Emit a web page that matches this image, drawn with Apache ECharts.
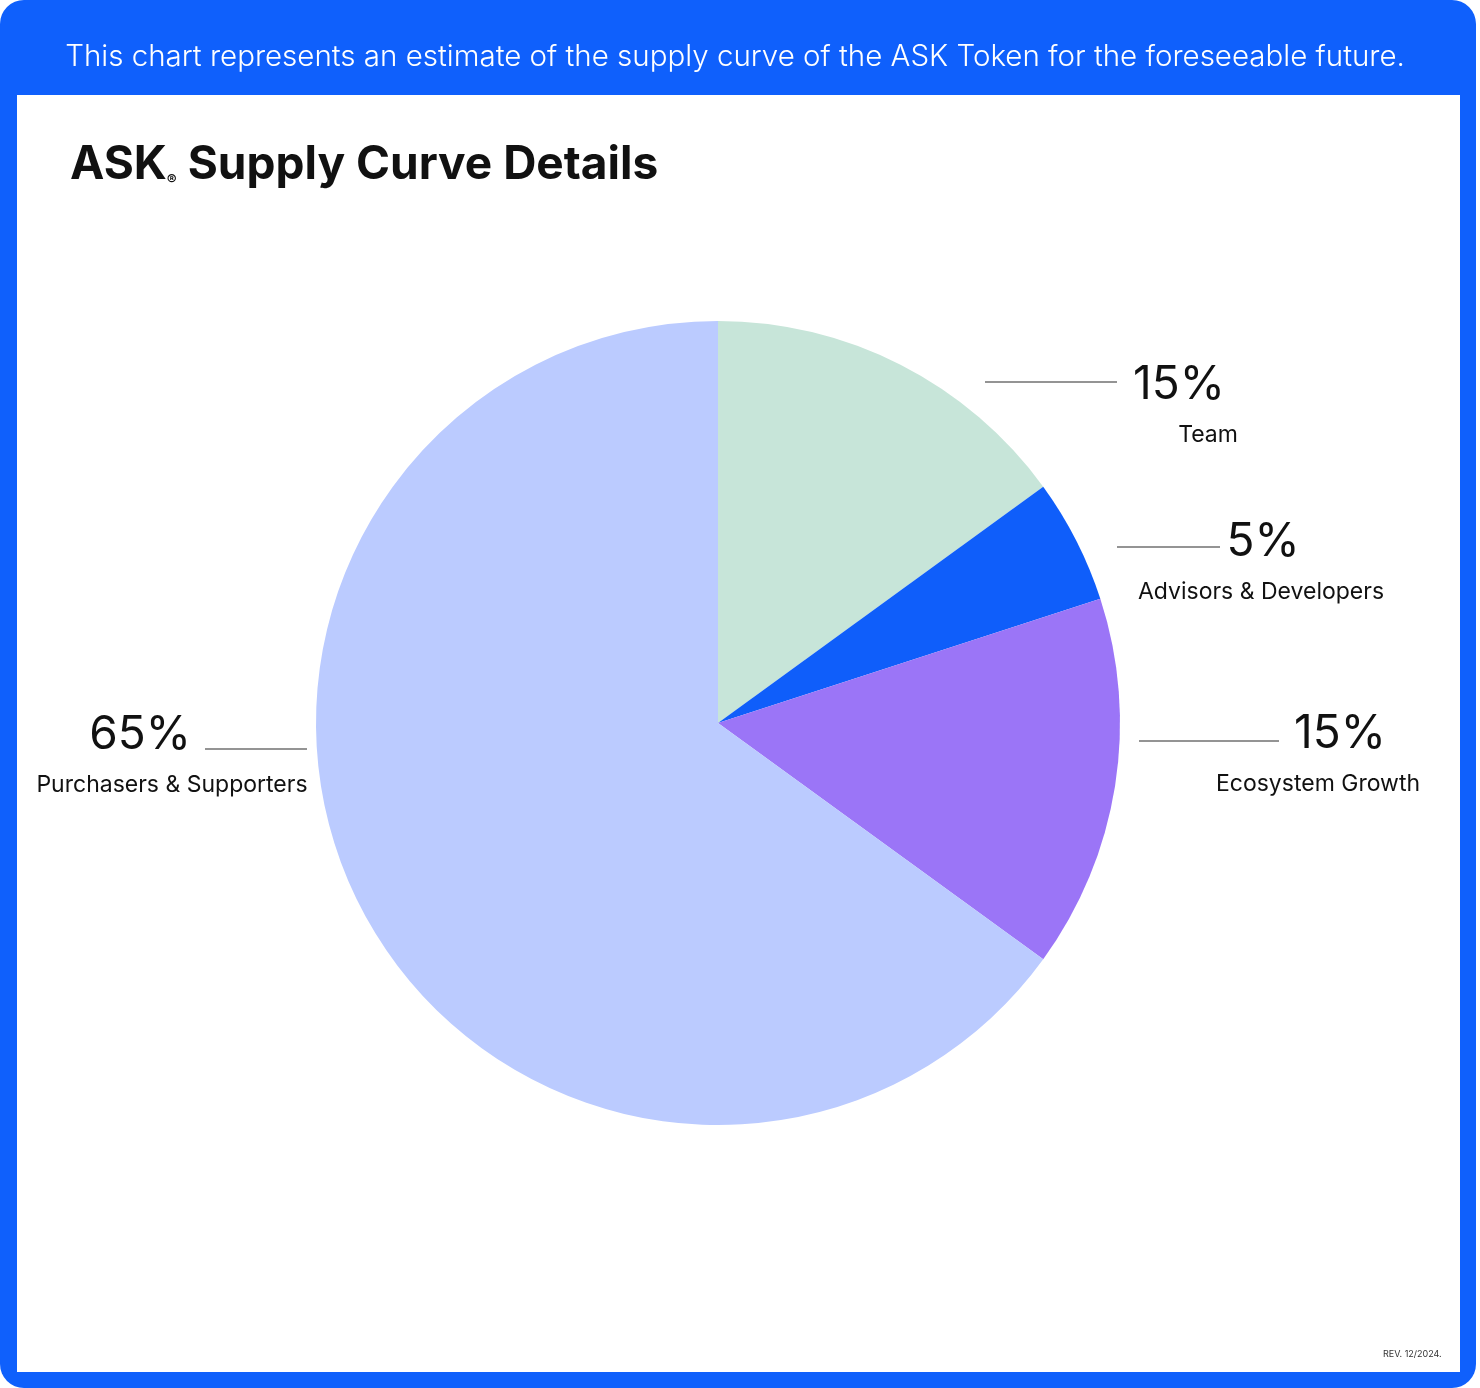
<!DOCTYPE html>
<html>
<head>
<meta charset="utf-8">
<script src="https://cdn.jsdelivr.net/npm/echarts@6/dist/echarts.min.js"></script>
<style>
  html, body { margin: 0; padding: 0; background: #fff; }
  .frame {
    position: absolute; left: 0; top: 0;
    width: 1476px; height: 1388px;
    background: #0f60fc; border-radius: 24px;
  }
  .inner {
    position: absolute; left: 17px; top: 95px;
    width: 1443px; height: 1277px; background: #fff;
  }
  #chart { position: absolute; left: 0; top: 0; width: 1480px; height: 1388px; }
</style>
</head>
<body>
<div class="frame"><div class="inner"></div></div>
<div id="chart"></div>
<script>
// 数据
var categories = ['Team', 'Advisors & Developers', 'Ecosystem Growth', 'Purchasers & Supporters'];
var shares = [15, 5, 15, 65];
var colors = ['#c7e5d9', '#0f5efa', '#9b75f7', '#bbcbff'];

// 标签位置 (name center x, block top y, percent x offset, line y, line x from/to)
var spots = [
  { x: 1208, y: 357, dx: -29, ly: 382, lx: [985, 1117] },
  { x: 1261, y: 514, dx: 2, ly: 547, lx: [1117, 1220] },
  { x: 1318, y: 706, dx: 22, ly: 741, lx: [1139, 1279] },
  { x: 172, y: 707, dx: -32, ly: 749, lx: [205, 307] }
];

var font = 'Inter, "Noto Sans", sans-serif';

var pieData = categories.map(function (name, i) {
  var dx = spots[i].dx;
  return {
    name: name,
    value: shares[i],
    itemStyle: { color: colors[i] },
    label: {
      rich: {
        p: {
          fontSize: 46, fontFamily: font, color: '#111', lineHeight: 56,
          padding: dx < 0 ? [0, -2 * dx, 0, 0] : [0, 0, 0, 2 * dx]
        },
        n: { fontSize: 23, fontFamily: font, color: '#111', lineHeight: 44 }
      }
    }
  };
});

var chart = echarts.init(document.getElementById('chart'));
chart.setOption({
  animation: false,
  title: [
    {
      text: 'This chart represents an estimate of the supply curve of the ASK Token for the foreseeable future.',
      left: 730, top: 37, textAlign: 'center',
      textStyle: { color: '#fff', fontSize: 29.5, fontWeight: 300, fontFamily: font }
    },
    {
      text: '{a|ASK}{r|®}{a| Supply Curve Details}',
      left: 65, top: 137,
      textStyle: {
        rich: {
          a: { fontSize: 46, fontWeight: 'bold', color: '#111', fontFamily: font },
          r: { fontSize: 15, color: '#111', fontFamily: font, verticalAlign: 'bottom', padding: [15, 0, 0, 0] }
        }
      }
    },
    {
      text: 'REV. 12/2024.',
      left: 1378, top: 1345,
      textStyle: { color: '#333', fontSize: 9, fontWeight: 'normal', fontFamily: font }
    }
  ],
  series: [{
    type: 'pie',
    center: [718, 723],
    radius: [0, 402],
    startAngle: 90,
    clockwise: true,
    silent: true,
    data: pieData,
    label: {
      show: true,
      formatter: function (p) {
        return '{p|' + p.value + '%}\n{n|' + p.name + '}';
      }
    },
    labelLine: {
      show: true,
      lineStyle: { color: '#707070', width: 1.5 }
    },
    labelLayout: function (params) {
      var s = spots[params.dataIndex];
      return {
        x: s.x, y: s.y, align: 'center', verticalAlign: 'top',
        labelLinePoints: [[s.lx[0], s.ly], [(s.lx[0] + s.lx[1]) / 2, s.ly], [s.lx[1], s.ly]]
      };
    }
  }]
});
</script>
</body>
</html>
